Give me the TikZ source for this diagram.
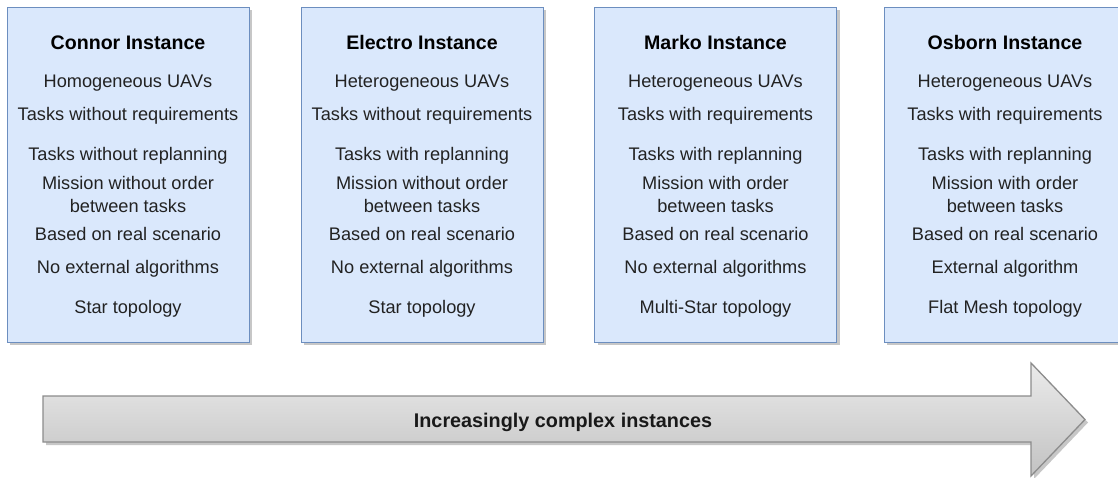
\documentclass[tikz,border=0pt]{standalone}
\usepackage{fontspec}
\setmainfont{Liberation Sans}
\definecolor{boxfill}{HTML}{DAE8FC}
\definecolor{boxline}{HTML}{6C8EBF}
\definecolor{arrline}{HTML}{8C8C8C}
\definecolor{arrtop}{HTML}{EBEBEB}
\definecolor{arrbot}{HTML}{C2C2C2}
\definecolor{txt}{HTML}{222222}
\newcommand\mkbox[9]{%
  \fill[shade] (#2-121+3,7+3) rectangle (#2+121+3,342+3);
  \node[card, minimum width=242pt, minimum height=335pt, anchor=north] (#1) at (#2,7) {};
  \node[ttl] (#1-t) at (#2,49) {#3};
  \node[itm] (#1-a) at (#2,87) {#4};
  \node[itm] (#1-b) at (#2,120) {#5};
  \node[itm] (#1-c) at (#2,160) {#6};
  \node[itm] (#1-d) at (#2,189) {#7};
  \node[itm] (#1-e) at (#2,212) {between tasks};
  \node[itm] (#1-f) at (#2,240) {Based on real scenario};
  \node[itm] (#1-g) at (#2,273) {#8};
  \node[itm] (#1-h) at (#2,313) {#9};
}
\begin{document}
\begin{tikzpicture}[x=1pt,y=-1pt,
  card/.style={draw=boxline, fill=boxfill, line width=1pt, inner sep=0pt},
  shade/.style={fill=black, opacity=0.22},
  ttl/.style={font=\fontsize{19.6}{22}\selectfont\bfseries, anchor=base, inner sep=0pt, text=black},
  itm/.style={font=\fontsize{18.2}{22}\selectfont, anchor=base, inner sep=0pt, text=txt},
  bigarrow/.style={draw=arrline, line width=1.3pt, top color=arrtop, bottom color=arrbot, line join=miter},
  arrlabel/.style={font=\fontsize{19.8}{22}\selectfont\bfseries, anchor=base, inner sep=0pt, text=black!90}]
\clip (0,0) rectangle (1118,477);
\useasboundingbox (0,0) rectangle (1118,477);
\fill[white] (0,0) rectangle (1118,477);

\mkbox{connor}{128}{Connor Instance}{Homogeneous UAVs}{Tasks without requirements}{Tasks without replanning}{Mission without order}{No external algorithms}{Star topology}
\mkbox{electro}{422}{Electro Instance}{Heterogeneous UAVs}{Tasks without requirements}{Tasks with replanning}{Mission without order}{No external algorithms}{Star topology}
\mkbox{marko}{715.5}{Marko Instance}{Heterogeneous UAVs}{Tasks with requirements}{Tasks with replanning}{Mission with order}{No external algorithms}{Multi-Star topology}
\mkbox{osborn}{1005}{Osborn Instance}{Heterogeneous UAVs}{Tasks with requirements}{Tasks with replanning}{Mission with order}{External algorithm}{Flat Mesh topology}

% big arrow
\fill[shade, shift={(3,3)}] (43,396) -- (1031,396) -- (1031,363) -- (1085,419.5) -- (1031,476) -- (1031,442) -- (43,442) -- cycle;
\path[bigarrow] (43,396) -- (1031,396) -- (1031,363) -- (1085,419.5) -- (1031,476) -- (1031,442) -- (43,442) -- cycle;
\node[arrlabel] (arrtxt) at (563,427) {Increasingly complex instances};
\end{tikzpicture}
\end{document}
